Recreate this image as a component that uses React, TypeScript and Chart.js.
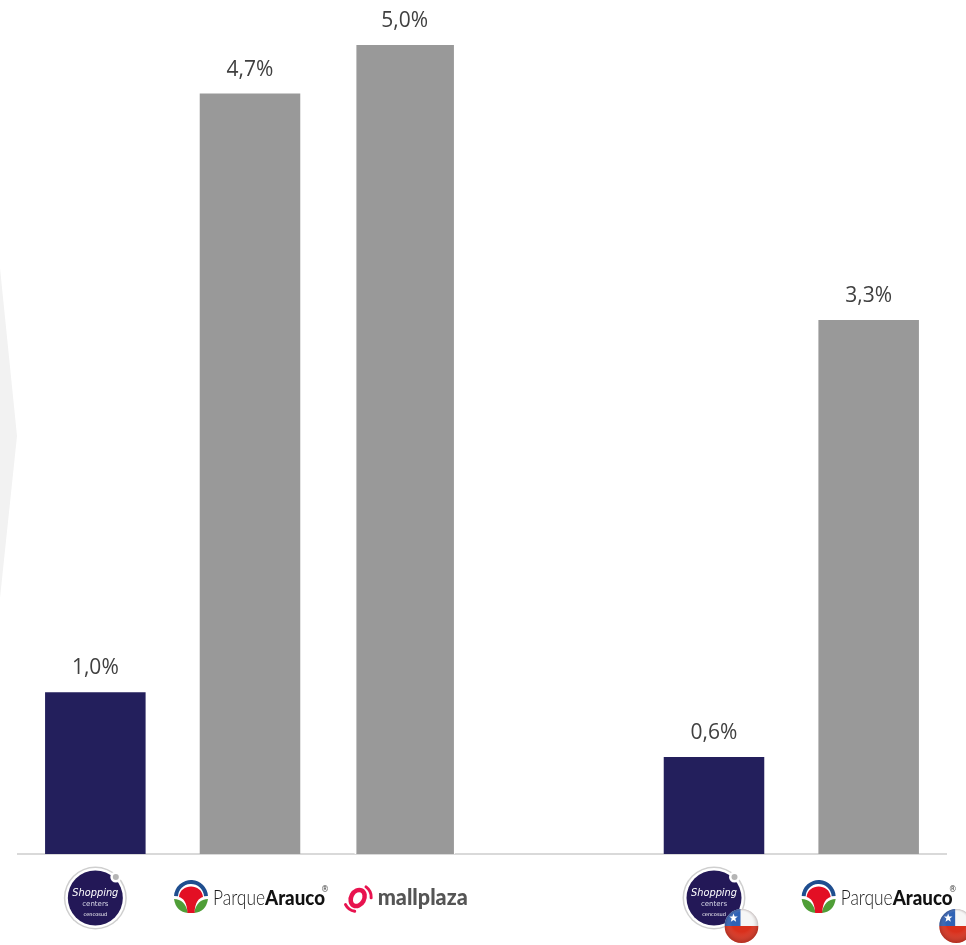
import React, { useEffect, useRef } from "react";
import { Chart, registerables, Plugin } from "chart.js";

Chart.register(...registerables);

// Occupancy-cost gap by operator; the empty slot separates the regional group from Chile.
const categories = ["Shopping Centers", "Parque Arauco", "Mallplaza", "", "Shopping Centers Chile", "Parque Arauco Chile"];
const values = [1.0, 4.7, 5.0, null, 0.6, 3.3];
const barColors = ["#231f5c", "#999999", "#999999", "#999999", "#231f5c", "#999999"];
const valueLabels = ["1,0%", "4,7%", "5,0%", "", "0,6%", "3,3%"];

const LABEL_FONT = '21px "Open Sans", sans-serif';

type Ctx = CanvasRenderingContext2D;

function drawShoppingBadge(ctx: Ctx, cx: number, cy: number) {
  ctx.save();
  ctx.beginPath();
  ctx.arc(cx, cy, 31.5, 0, Math.PI * 2);
  ctx.fillStyle = "#cfcfcf";
  ctx.fill();
  ctx.beginPath();
  ctx.arc(cx, cy, 30, 0, Math.PI * 2);
  ctx.fillStyle = "#ffffff";
  ctx.fill();
  ctx.beginPath();
  ctx.arc(cx, cy, 27.5, 0, Math.PI * 2);
  ctx.fillStyle = "#231857";
  ctx.fill();
  ctx.beginPath();
  ctx.arc(cx + 20.5, cy - 21, 5.5, 0, Math.PI * 2);
  ctx.fillStyle = "#ffffff";
  ctx.fill();
  ctx.beginPath();
  ctx.arc(cx + 20.5, cy - 21, 3, 0, Math.PI * 2);
  ctx.fillStyle = "#b5b5b5";
  ctx.fill();
  ctx.fillStyle = "#ffffff";
  ctx.textAlign = "center";
  ctx.textBaseline = "middle";
  ctx.font = 'italic 11px "DejaVu Sans", sans-serif';
  ctx.fillText("Shopping", cx, cy - 5, 46);
  ctx.font = '7px "DejaVu Sans", sans-serif';
  ctx.fillStyle = "#d8d8e8";
  ctx.fillText("centers", cx, cy + 6, 28);
  ctx.font = '5px "DejaVu Sans", sans-serif';
  ctx.fillStyle = "#ffffff";
  ctx.fillText("cencosud", cx, cy + 17, 26);
  ctx.restore();
}

function drawFlag(ctx: Ctx, cx: number, cy: number) {
  const r = 17;
  ctx.save();
  ctx.beginPath();
  ctx.arc(cx, cy, r, 0, Math.PI * 2);
  ctx.clip();
  ctx.fillStyle = "#f6f6f6";
  ctx.fillRect(cx - r, cy - r, r * 2, r);
  ctx.fillStyle = "#d9301c";
  ctx.fillRect(cx - r, cy, r * 2, r);
  ctx.fillStyle = "#2f62b5";
  ctx.fillRect(cx - r, cy - r, r - 1, r);
  ctx.fillStyle = "#ffffff";
  ctx.beginPath();
  for (let i = 0; i < 10; i++) {
    const a = -Math.PI / 2 + (i * Math.PI) / 5;
    const s = i % 2 === 0 ? 4.5 : 1.9;
    ctx.lineTo(cx - 8 + Math.cos(a) * s, cy - 8 + Math.sin(a) * s);
  }
  ctx.closePath();
  ctx.fill();
  const shade = ctx.createRadialGradient(cx, cy - 4, 10, cx, cy, r);
  shade.addColorStop(0, "rgba(255,255,255,0)");
  shade.addColorStop(1, "rgba(70,40,40,0.28)");
  ctx.fillStyle = shade;
  ctx.fillRect(cx - r, cy - r, r * 2, r * 2);
  ctx.restore();
}

function drawParqueArauco(ctx: Ctx, cx: number, cy: number) {
  ctx.save();
  // Blue arch
  ctx.beginPath();
  ctx.arc(cx, cy, 17, Math.PI * 1.02, Math.PI * 1.98);
  ctx.arc(cx, cy, 13, Math.PI * 1.98, Math.PI * 1.02, true);
  ctx.closePath();
  ctx.fillStyle = "#1f4e8f";
  ctx.fill();
  // Green leaves
  ctx.fillStyle = "#4f9e37";
  ctx.beginPath();
  ctx.moveTo(cx - 17, cy + 2);
  ctx.quadraticCurveTo(cx - 6, cy + 2, cx - 3, cy + 16);
  ctx.quadraticCurveTo(cx - 15, cy + 15, cx - 17, cy + 2);
  ctx.fill();
  ctx.beginPath();
  ctx.moveTo(cx + 17, cy + 2);
  ctx.quadraticCurveTo(cx + 6, cy + 2, cx + 3, cy + 16);
  ctx.quadraticCurveTo(cx + 15, cy + 15, cx + 17, cy + 2);
  ctx.fill();
  // Red canopy and stem
  ctx.fillStyle = "#e30f24";
  ctx.beginPath();
  ctx.moveTo(cx - 12, cy);
  ctx.bezierCurveTo(cx - 11, cy - 14, cx + 11, cy - 14, cx + 12, cy);
  ctx.bezierCurveTo(cx + 8, cy + 1, cx + 4, cy + 5, cx + 3.5, cy + 16);
  ctx.lineTo(cx - 3.5, cy + 16);
  ctx.bezierCurveTo(cx - 4, cy + 5, cx - 8, cy + 1, cx - 12, cy);
  ctx.fill();
  // Wordmark
  ctx.textBaseline = "alphabetic";
  ctx.textAlign = "left";
  ctx.fillStyle = "#1c1c1c";
  ctx.font = "300 21px Lato, sans-serif";
  ctx.fillText("Parque", cx + 22, cy + 8, 52);
  ctx.fillStyle = "#111111";
  ctx.font = "900 21px Lato, sans-serif";
  ctx.fillText("Arauco", cx + 74, cy + 8, 60);
  ctx.font = '8px "DejaVu Sans", sans-serif';
  ctx.fillStyle = "#444444";
  ctx.fillText("®", cx + 130, cy - 5);
  ctx.restore();
}

function drawMallplaza(ctx: Ctx, cx: number, cy: number) {
  ctx.save();
  ctx.strokeStyle = "#e8134f";
  ctx.lineCap = "round";
  ctx.lineWidth = 4.5;
  ctx.beginPath();
  ctx.ellipse(cx, cy, 6.5, 8.5, 0.5, 0, Math.PI * 2);
  ctx.stroke();
  ctx.lineWidth = 3;
  ctx.beginPath();
  ctx.arc(cx - 1, cy + 1, 12.5, Math.PI * 0.55, Math.PI * 0.85);
  ctx.stroke();
  ctx.beginPath();
  ctx.arc(cx + 1, cy - 1, 12.5, -Math.PI * 0.3, Math.PI * 0.02);
  ctx.stroke();
  ctx.fillStyle = "#555555";
  ctx.textAlign = "left";
  ctx.textBaseline = "alphabetic";
  ctx.font = "900 23px Lato, sans-serif";
  ctx.fillText("mallplaza", cx + 20, cy + 7, 90);
  ctx.restore();
}

// Pale chevron behind the chart, plus the value labels and operator logos below the axis.
const decorations: Plugin<"bar"> = {
  id: "decorations",
  beforeDraw(chart) {
    const { ctx } = chart;
    ctx.save();
    ctx.fillStyle = "#f2f2f2";
    ctx.beginPath();
    ctx.moveTo(0, 268);
    ctx.lineTo(17, 436);
    ctx.lineTo(0, 598);
    ctx.closePath();
    ctx.fill();
    ctx.restore();
  },
  afterDraw(chart) {
    const { ctx } = chart;
    const meta = chart.getDatasetMeta(0);
    const xs = chart.scales.x;
    ctx.save();
    ctx.font = LABEL_FONT;
    ctx.fillStyle = "#404040";
    ctx.textAlign = "center";
    ctx.textBaseline = "alphabetic";
    values.forEach((v, i) => {
      if (v === null) return;
      const bar = meta.data[i];
      ctx.fillText(valueLabels[i], bar.x, bar.y - 18);
    });
    ctx.restore();

    const logoY = 897;
    drawShoppingBadge(ctx, xs.getPixelForValue(0), logoY + 1);
    drawParqueArauco(ctx, xs.getPixelForValue(1) - 59, logoY);
    drawMallplaza(ctx, xs.getPixelForValue(2) - 47, logoY + 1);
    drawShoppingBadge(ctx, xs.getPixelForValue(4), logoY + 1);
    drawFlag(ctx, xs.getPixelForValue(4) + 27.5, 926);
    drawParqueArauco(ctx, xs.getPixelForValue(5) - 50, logoY);
    drawFlag(ctx, xs.getPixelForValue(5) + 87.5, 926);
  },
};

export default function App() {
  const ref = useRef<HTMLCanvasElement>(null);

  useEffect(() => {
    document.body.style.margin = "0";
    const chart = new Chart(ref.current!, {
      type: "bar",
      data: {
        labels: categories,
        datasets: [
          {
            data: values,
            backgroundColor: barColors,
            categoryPercentage: 1,
            barPercentage: 0.65,
            // The Mallplaza bar sits slightly narrower than its neighbours.
            borderColor: "#ffffff",
            borderSkipped: false,
            borderWidth: (c: any) =>
              c.dataIndex === 2 ? { left: 2, right: 1, top: 0, bottom: 0 } : 0,
          },
        ],
      },
      options: {
        animation: false,
        responsive: false,
        layout: { padding: { left: 18, right: 20, top: 45, bottom: 83 } },
        plugins: { legend: { display: false }, tooltip: { enabled: false } },
        scales: {
          x: {
            z: 1,
            grid: { display: false },
            border: { color: "#d9d9d9", width: 2 },
            ticks: { display: false },
          },
          y: { display: false, min: 0, max: 5 },
        },
      },
      plugins: [decorations],
    });
    return () => chart.destroy();
  }, []);

  return <canvas ref={ref} width={966} height={945} style={{ display: "block" }} />;
}
